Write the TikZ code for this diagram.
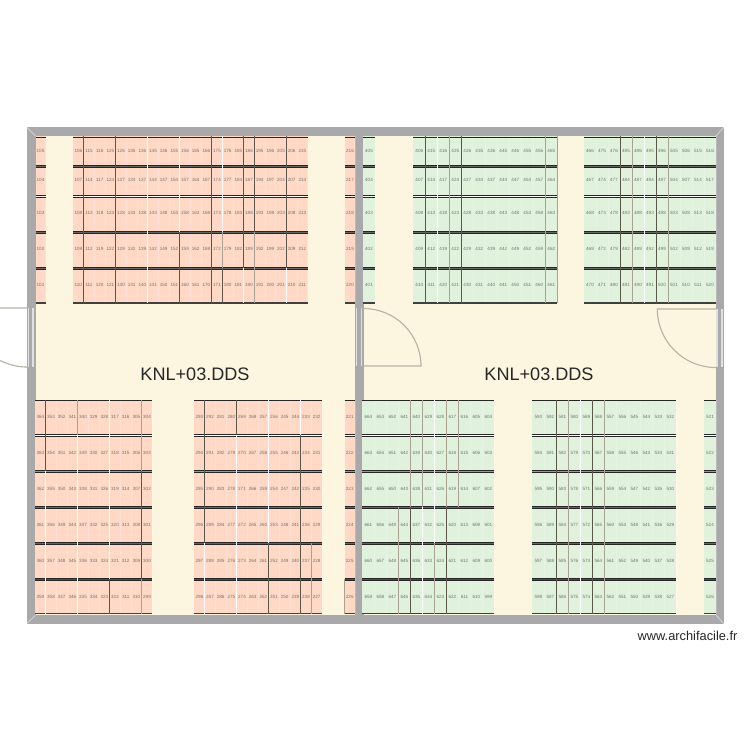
\documentclass[tikz,border=0pt]{standalone}
\usepackage{fontspec}
\setmainfont{Liberation Sans}
\usetikzlibrary{calc}
\definecolor{wallGray}{HTML}{A9A9AB}
\definecolor{floorCream}{HTML}{FCF6E1}
\definecolor{roomRed}{HTML}{FFD8C6}
\definecolor{roomGreen}{HTML}{E0F2DC}
\definecolor{doorGray}{HTML}{B8B3A6}
\definecolor{splitDark}{HTML}{5A5648}
\definecolor{splitPale}{HTML}{A8A292}
\tikzset{
	cellText/.style={font=\fontsize{2.6}{3}\selectfont, text=black!55, inner sep=0pt, text height=1.9pt, text depth=0pt},
	bigText/.style={font=\fontsize{10.3}{12}\selectfont, text=black!85, inner sep=0pt},
	markText/.style={font=\fontsize{7.3}{9}\selectfont, text=black!85, inner sep=0pt},
	sepLine/.style={line width=.55pt, black!85},
	vDark/.style={line width=.55pt, splitDark},
	vPale/.style={line width=.55pt, splitPale},
	vWhite/.style={line width=.55pt, white},
	tickLine/.style={line width=.3pt, white, opacity=.2},
	doorLine/.style={line width=.65pt, doorGray},
	doorStrip/.style={line width=.8pt, white!88!black},
}
\def\topRows{{136,166,196,232,268,303}}
\def\lowRows{{400,435,471,507,543,579,614}}
% rows at the top: numbers run down, then up
\newcommand{\topBlock}[6]{
	\fill[#1] (#2,136) rectangle ({#2+#4*#3},303);
	\foreach \c in {1,...,#4}{
		\draw[tickLine] ({#2+\c*#3},136) -- ({#2+\c*#3},303);
		\foreach \r/\yy in {1/150.5,2/180,3/213,4/249,5/285}{
			\pgfmathtruncatemacro{\num}{#5+5*(\c-1)+(mod(\c-1+#6,2)==0 ? \r-1 : 5-\r)}
			\node[cellText] (n\num) at ({#2+(\c-.5)*#3},\yy) {\num};
		}
	}
	\foreach \yy/\gap in {166/black!60,196/white,232/black!60,268/black!60}{
		\fill[\gap] (#2,\yy-1) rectangle ({#2+#4*#3},\yy+1);
		\draw[sepLine] (#2,\yy-1) -- ({#2+#4*#3},\yy-1)  (#2,\yy+1) -- ({#2+#4*#3},\yy+1);
	}
	\draw[sepLine] (#2,137) -- ({#2+#4*#3},137);
	\draw[sepLine, line width=1pt, black!75] (#2,303) -- ({#2+#4*#3},303);
}
% rows at the bottom: counted from the right hand column
\newcommand{\lowBlock}[6]{
	\fill[#1] (#2,400) rectangle ({#2+#4*#3},614);
	\foreach \c in {1,...,#4}{
		\draw[tickLine] ({#2+\c*#3},400) -- ({#2+\c*#3},614);
		\foreach \r/\yy in {1/417,2/453,3/489,4/525,5/561,6/597}{
			\pgfmathtruncatemacro{\num}{#5+6*(\c-1)+(mod(\c-1+#6,2)==0 ? 6-\r : \r-1)}
			\node[cellText] (n\num) at ({#2+(#4-\c+.5)*#3},\yy) {\num};
		}
	}
	\foreach \yy/\gap in {435/white,471/black!40,507/black!60,543/black!60,579/black!70}{
		\fill[\gap] (#2,\yy-1) rectangle ({#2+#4*#3},\yy+1);
		\draw[sepLine] (#2,\yy-1) -- ({#2+#4*#3},\yy-1)  (#2,\yy+1) -- ({#2+#4*#3},\yy+1);
	}
	\draw[sepLine] (#2,400) -- ({#2+#4*#3},400);
	\draw[sepLine, line width=1pt, black!75] (#2,613.5) -- ({#2+#4*#3},613.5);
}
\newcommand{\vSplit}[4]{
	\foreach \i/\ra/\rb/\sty in {#4}{
		\pgfmathsetmacro{\ya}{#3[\ra-1]}
		\pgfmathsetmacro{\yb}{#3[\rb]}
		\draw[\sty] ({#1+\i*#2},\ya) -- ({#1+\i*#2},\yb);
	}
}
\begin{document}
\begin{tikzpicture}[x=.02cm, y=-.02cm]
	\useasboundingbox (0,0) rectangle (750,750);
	\fill[white] (0,0) rectangle (750,750);
%
	\fill[wallGray] (26.5,127) rectangle (724,624);
	\fill[floorCream] (35.5,136) rectangle (355,615);
	\fill[floorCream] (363.5,136) rectangle (716,615);
	\draw[line width=.3pt, white!70!wallGray] (26.5,127) -- (35.5,136)  (724,127) -- (716,136)  (26.5,624) -- (35.5,615)  (724,624) -- (716,615);
%
	\topBlock{roomRed}{35.5}{10}{1}{101}{1}
	\topBlock{roomRed}{73}{10.667}{22}{106}{0}
	\topBlock{roomRed}{345}{10}{1}{216}{0}
	\topBlock{roomGreen}{363}{12}{1}{401}{1}
	\topBlock{roomGreen}{413.3}{12}{12}{406}{0}
	\topBlock{roomGreen}{584}{12}{11}{466}{0}
%
	\lowBlock{roomRed}{35}{10.667}{11}{299}{0}
	\lowBlock{roomRed}{194}{10.667}{12}{227}{0}
	\lowBlock{roomRed}{344.5}{10.5}{1}{221}{1}
	\lowBlock{roomGreen}{362.4}{12}{11}{599}{0}
	\lowBlock{roomGreen}{532.4}{12}{12}{527}{0}
	\lowBlock{roomGreen}{704}{12}{1}{521}{1}
%
	\vSplit{73}{10.667}{\topRows}{1/1/5/vDark,4/1/5/vDark,7/1/5/vWhite,10/1/3/vWhite,10/4/5/vDark,13/1/5/vDark,14/1/3/vWhite,14/4/4/vPale,14/5/5/vDark,16/1/4/vDark,16/5/5/vWhite,17/1/3/vDark,17/4/5/vPale,20/1/4/vDark,20/5/5/vWhite}
	\vSplit{413.3}{12}{\topRows}{1/1/5/vDark,2/1/5/vWhite,3/1/5/vPale,4/1/5/vDark,11/1/5/vPale,12/1/5/vPale}
	\vSplit{584}{12}{\topRows}{3/1/5/vDark,4/1/5/vPale,5/1/5/vWhite,6/1/5/vDark,7/1/5/vPale}
	\vSplit{35}{10.667}{\lowRows}{1/1/2/vDark,1/3/6/vWhite,4/1/1/vPale,4/2/6/vWhite,7/1/5/vWhite,7/6/6/vDark,10/1/2/vPale,10/3/5/vDark,10/6/6/vPale}
	\vSplit{194}{10.667}{\lowRows}{1/1/4/vDark,1/5/6/vWhite,4/1/1/vDark,4/2/6/vWhite,7/1/4/vWhite,7/5/6/vDark,10/1/1/vWhite,10/2/6/vDark,11/5/6/vPale}
	\vSplit{344.5}{10.5}{\lowRows}{0/6/6/vPale}
	\vSplit{362.4}{12}{\lowRows}{3/4/6/vPale,4/1/3/vPale,4/4/6/vDark,5/1/3/vPale,5/4/6/vWhite,6/1/4/vWhite,6/5/6/vPale,7/1/3/vPale,7/4/6/vDark,8/1/3/vPale}
	\vSplit{532.4}{12}{\lowRows}{2/1/6/vDark,3/1/6/vPale,4/1/6/vWhite,5/1/6/vDark,6/1/6/vPale}
%
	\draw[doorStrip] (28.5,308) -- (28.5,367)  (33,308) -- (33,367);
	\draw[doorStrip] (356.5,308) -- (356.5,366)  (361.5,308) -- (361.5,366);
	\draw[doorStrip] (717,309) -- (717,367)  (722,309) -- (722,367);
%
	\begin{scope}
		\clip (0,0) rectangle (750,750);
		\draw[doorLine] (27,308) -- (-32,308) arc[start angle=180, end angle=90, radius=59];
	\end{scope}
	\draw[doorLine] (364,366) -- (421,366) arc[start angle=0, end angle=-90, radius=57.5];
	\draw[doorLine] (716,309) -- (657.3,309) arc[start angle=180, end angle=90, radius=58.5];
%
	\node[bigText] (leftName) at (195,374.5) {KNL+03.DDS};
	\node[bigText] (rightName) at (539,374.5) {KNL+03.DDS};
	\node[markText] (siteMark) at (687.5,635.5) {www.archifacile.fr};
\end{tikzpicture}
\end{document}
